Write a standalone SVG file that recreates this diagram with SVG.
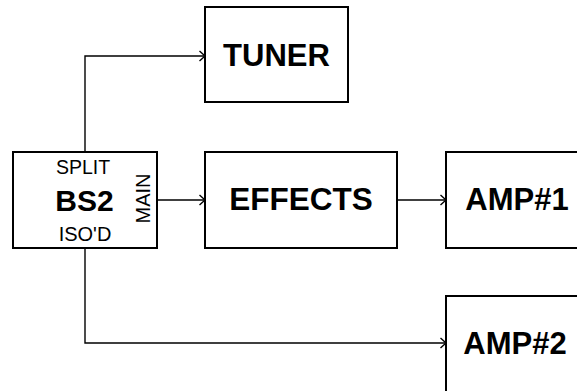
<svg xmlns="http://www.w3.org/2000/svg" width="577" height="391" viewBox="0 0 577 391">
<style>
.box{fill:#fff;stroke:#000;stroke-width:2}
.con{fill:none;stroke:#000;stroke-width:1.4}
.big{font-family:"Liberation Sans",Arial,sans-serif;font-weight:bold;font-size:31px;text-anchor:middle;fill:#000}
.small{font-family:"Liberation Sans",Arial,sans-serif;font-size:19.5px;text-anchor:middle;fill:#000}
</style>
<defs>
<marker id="arr" markerWidth="10" markerHeight="12" refX="7" refY="6" orient="auto" markerUnits="userSpaceOnUse">
<path d="M1.5 1 L7 6 L1.5 11" fill="none" stroke="#000" stroke-width="1.4"/>
</marker>
</defs>
<rect width="577" height="391" fill="#fff"/>
<g id="connectors">
<path class="con" d="M85 152 V56 H205" marker-end="url(#arr)"/>
<path class="con" d="M157 200 H205" marker-end="url(#arr)"/>
<path class="con" d="M397 200 H446" marker-end="url(#arr)"/>
<path class="con" d="M85 248 V343 H446" marker-end="url(#arr)"/>
</g>
<g id="bs2">
<rect class="box" x="13" y="152" width="144" height="96"/>
<text class="small" x="83" y="174">SPLIT</text>
<text class="big" x="84.5" y="211" style="font-size:30px">BS2</text>
<text class="small" x="85" y="241" style="font-size:20px">ISO'D</text>
<text class="small" transform="translate(150,198.5) rotate(-90)" x="0" y="0" style="font-size:20px">MAIN</text>
</g>
<g id="tuner">
<rect class="box" x="205" y="7" width="143" height="95"/>
<text class="big" x="276.5" y="66">TUNER</text>
</g>
<g id="effects">
<rect class="box" x="205" y="152" width="192" height="96"/>
<text class="big" x="301" y="210" style="font-size:31.5px">EFFECTS</text>
</g>
<g id="amp1">
<rect class="box" x="446" y="152" width="150" height="96"/>
<text class="big" x="517" y="210">AMP#1</text>
</g>
<g id="amp2">
<rect class="box" x="446" y="296" width="150" height="120"/>
<text class="big" x="515" y="354">AMP#2</text>
</g>
</svg>
